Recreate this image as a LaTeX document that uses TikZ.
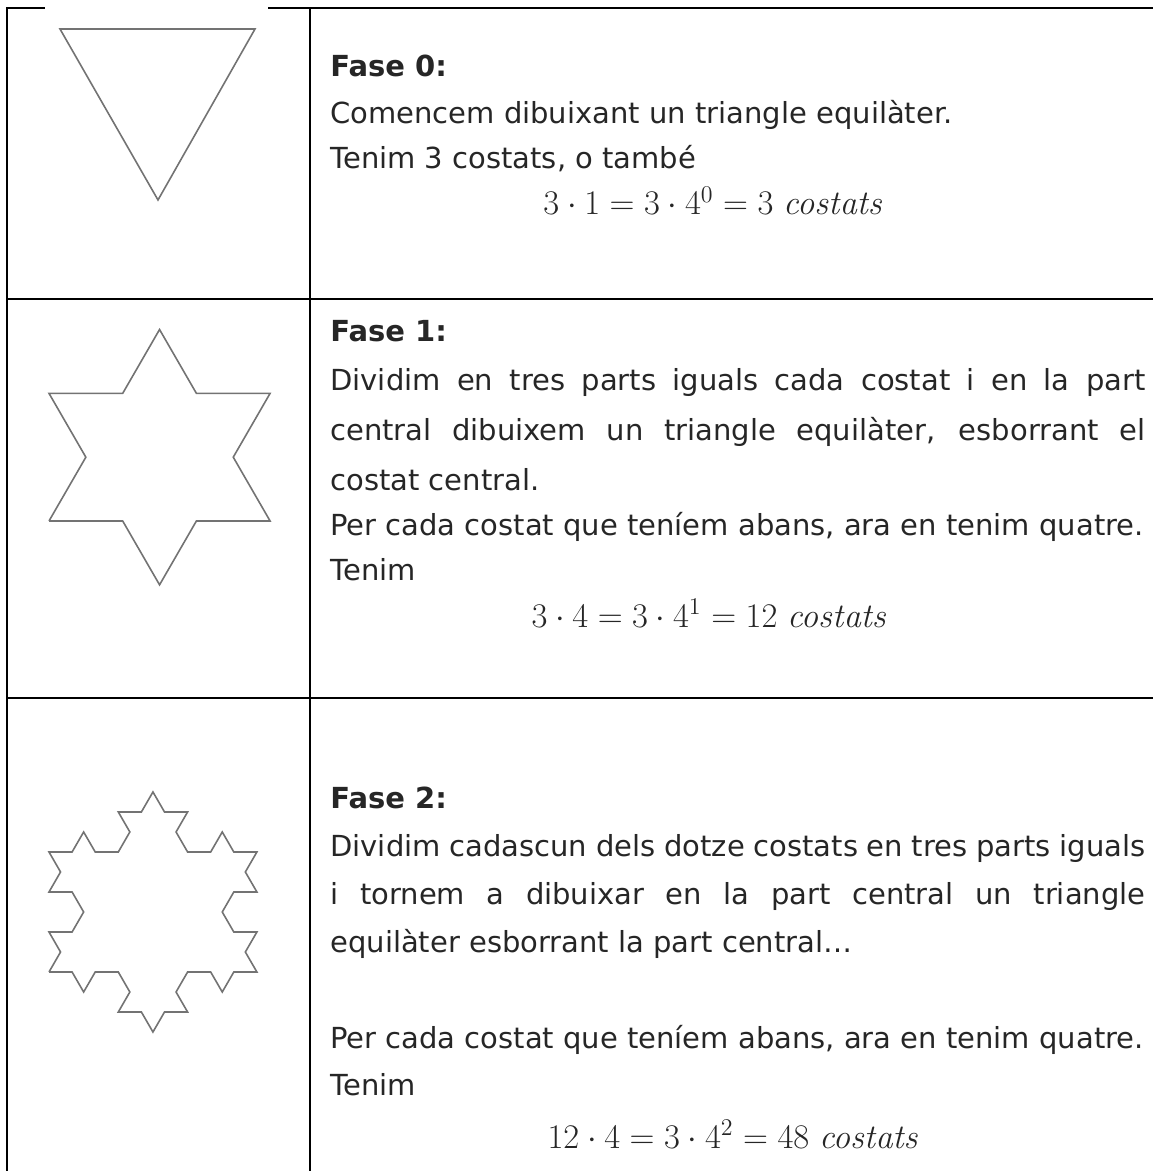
\documentclass[tikz,border=0pt]{standalone}
\usepackage[no-math]{fontspec}
\setmainfont{DejaVu Sans}
\usetikzlibrary{lindenmayersystems}

\pgfdeclarelindenmayersystem{koch snow}{
  \rule{F -> F-F++F-F}
}

\newlength{\linewd}
\setlength{\linewd}{407.5pt}

\begin{document}
\begin{tikzpicture}[
    x=0.5pt, y=-0.5pt,
    rule/.style={line width=1pt, black},
    koch/.style={draw=black!55, line width=0.8pt, line join=miter},
    title/.style={anchor=base west, inner sep=0pt, text=black!85, font=\fontsize{14.5}{17}\selectfont\bfseries},
    body/.style={anchor=base west, inner sep=0pt, text=black!85, font=\fontsize{14.5}{17}\selectfont},
    formula/.style={anchor=base, inner sep=0pt, text=black!85, font=\fontsize{16.5}{19}\selectfont},
]

% page
\useasboundingbox (0,0) rectangle (1153,1171);

% Table rules
\draw[rule] (7,8) -- (45,8);
\draw[rule] (268,8) -- (1153,8);
\draw[rule] (7,7.5) -- (7,1171);
\draw[rule] (310,8) -- (310,1171);
\draw[rule] (7,299) -- (1153,299);
\draw[rule] (7,698) -- (1153,698);

% Fractals
\draw[koch] (60,29) -- (255,29) -- (158,200) -- cycle;
\draw[koch, shift={(49,521)}, lindenmayer system={koch snow, axiom=F++F++F, order=1, step=36.85pt, angle=60}]
    lindenmayer system;
\draw[koch, shift={(49,972)}, lindenmayer system={koch snow, axiom=F++F++F, order=2, step=11.55pt, angle=60}]
    lindenmayer system;

% Fase 0
\node[title] (f0) at (330,77) {Fase 0:};
\node[body] (f0a) at (330,124) {Comencem dibuixant un triangle equilàter.};
\node[body] (f0b) at (330,169) {Tenim 3 costats, o també};
\node[formula] (f0c) at (714,215) {$3\cdot 1=3\cdot 4^{0}=3\;\mathit{costats}$};

% Fase 1
\node[title] (f1) at (330,342) {Fase 1:};
\node[body] (f1a) at (330,390) {\makebox[\linewd][s]{Dividim en tres parts iguals cada costat i en la part}};
\node[body] (f1b) at (330,440) {\makebox[\linewd][s]{central dibuixem un triangle equilàter, esborrant el}};
\node[body] (f1c) at (330,490) {costat central.};
\node[body] (f1d) at (330,535) {Per cada costat que teníem abans, ara en tenim quatre.};
\node[body] (f1e) at (330,580) {Tenim};
\node[formula] (f1f) at (710,627) {$3\cdot 4=3\cdot 4^{1}=12\;\mathit{costats}$};

% Fase 2
\node[title] (f2) at (330,808) {Fase 2:};
\node[body] (f2a) at (330,856) {\makebox[\linewd][s]{Dividim cadascun dels dotze costats en tres parts iguals}};
\node[body] (f2b) at (330,904) {\makebox[\linewd][s]{i tornem a dibuixar en la part central un triangle}};
\node[body] (f2c) at (330,952) {equilàter esborrant la part central…};
\node[body] (f2d) at (330,1048) {Per cada costat que teníem abans, ara en tenim quatre.};
\node[body] (f2e) at (330,1095) {Tenim};
\node[formula] (f2f) at (734,1148) {$12\cdot 4=3\cdot 4^{2}=48\;\mathit{costats}$};

\end{tikzpicture}
\end{document}
